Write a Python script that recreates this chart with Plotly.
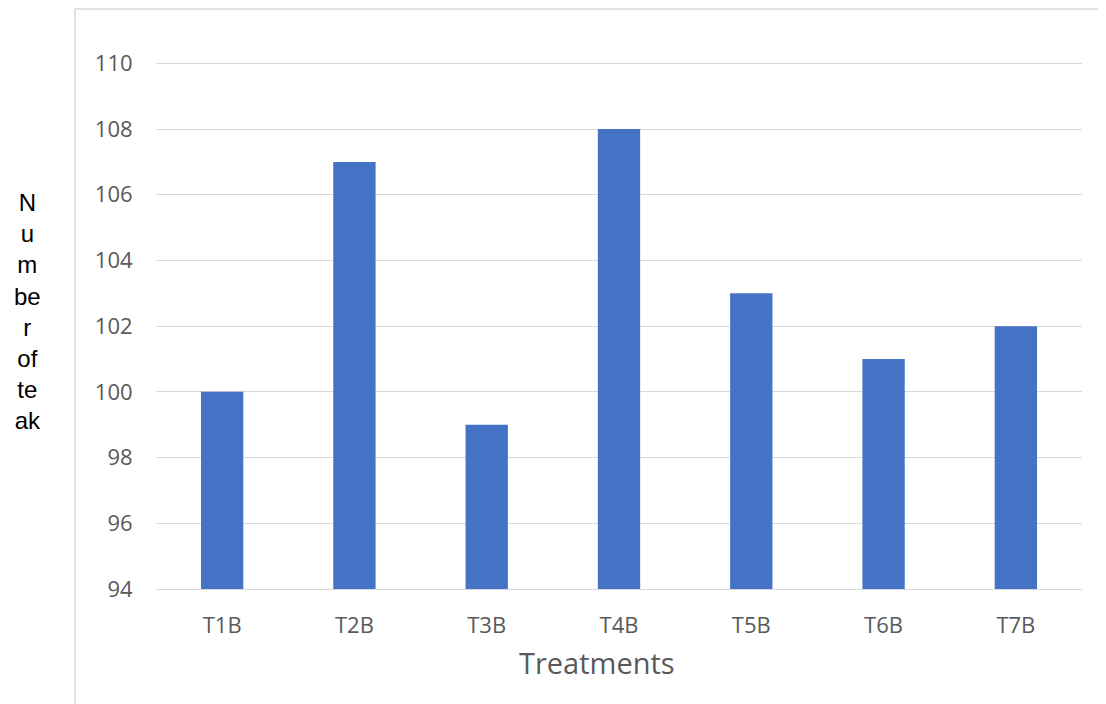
import plotly.graph_objects as go

categories = ["T1B", "T2B", "T3B", "T4B", "T5B", "T6B", "T7B"]
values = [100, 107, 99, 108, 103, 101, 102]
y_ticks = [94, 96, 98, 100, 102, 104, 106, 108, 110]

# page has an 8px body margin, so work in reference pixels minus 8
OFF = 8
W, H = 1106 - OFF, 704 - OFF
L, R, T, B = 156 - OFF, 1106 - 1082, 62 - OFF, 704 - 589
PW, PH = W - L - R, H - T - B

def px(x):
    return (x - OFF - L) / PW

def py(y):
    return (H - B - (y - OFF)) / PH

fig = go.Figure(go.Bar(x=categories, y=values, marker_color="#4472C4",
                       marker_line_width=0))

fig.update_layout(
    width=W, height=H,
    margin=dict(l=L, r=R, t=T, b=B),
    paper_bgcolor="white", plot_bgcolor="white",
    bargap=0.68, showlegend=False,
    font=dict(family="Open Sans", color="#595959"),
)
fig.update_yaxes(range=[94, 110.04], tickvals=y_ticks, showgrid=True,
                 gridcolor="#d9d9d9", gridwidth=1, zeroline=False,
                 showline=False, ticks="outside", ticklen=18, tickcolor="rgba(0,0,0,0)",
                 tickfont=dict(size=22, color="#595959", family="Open Sans"))
fig.update_xaxes(showline=True, linecolor="#d9d9d9", linewidth=1,
                 ticks="outside", ticklen=17, tickcolor="rgba(0,0,0,0)",
                 tickfont=dict(size=22, color="#595959", family="Open Sans"))

# outer chart border
fig.add_shape(type="rect", xref="paper", yref="paper",
              x0=px(75), x1=px(1120), y0=py(9), y1=py(720),
              line=dict(color="#d9d9d9", width=1.5), fillcolor="rgba(0,0,0,0)", layer="below")

fig.add_annotation(text="Treatments", xref="paper", yref="paper",
                   x=px(597), y=py(662), showarrow=False, xanchor="center", yanchor="middle",
                   font=dict(size=29, color="#595959", family="Open Sans"))

fig.add_annotation(text="N<br>u<br>m<br>be<br>r<br>of<br>te<br>ak", xref="paper", yref="paper",
                   x=px(27), y=py(311), showarrow=False, xanchor="center", yanchor="middle",
                   align="center",
                   font=dict(size=24, color="black", family="Liberation Sans, Arial"))

fig.write_html("out.html")
